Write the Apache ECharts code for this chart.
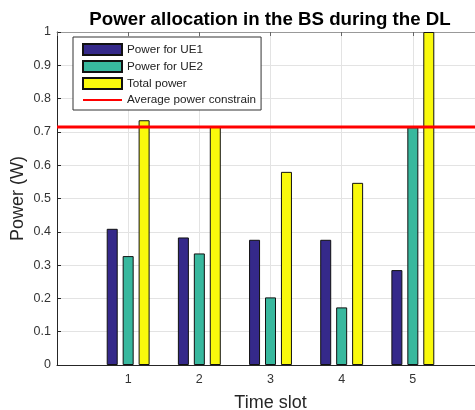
<!DOCTYPE html>
<html>
<head>
<meta charset="utf-8">
<script src="https://cdn.jsdelivr.net/npm/echarts@6/dist/echarts.min.js"></script>
<style>html,body{margin:0;padding:0;background:#fff;overflow:hidden;}#c{width:475px;height:410px;}</style>
</head>
<body>
<div id="c"></div>
<script>
const timeSlots = [1, 2, 3, 4, 5];
const ue1Power = [0.409, 0.383, 0.376, 0.376, 0.285];
const ue2Power = [0.327, 0.335, 0.203, 0.173, 0.714];
const totalPower = [0.735, 0.715, 0.580, 0.547, 1.0];
const avgConstraint = 0.715;
const xRange = [0, 6];
const seriesNames = ['Power for UE1', 'Power for UE2', 'Total power', 'Average power constrain'];

const pair = arr => timeSlots.map((t, i) => [t, arr[i]]);
const axisColor = '#262626';
const FONT = 'Liberation Sans, Arial, sans-serif';
const chart = echarts.init(document.getElementById('c'), null, {renderer: 'canvas'});
const barCommon = {type: 'bar', barWidth: 11, barGap: '45%', itemStyle: {borderColor: '#111', borderWidth: 1}};
chart.setOption({
  animation: false,
  backgroundColor: '#fff',
  textStyle: {fontFamily: FONT},
  title: {
    text: 'Power allocation in the BS during the DL',
    left: 265, textAlign: 'center', top: 5,
    textStyle: {fontSize: 18.7, fontWeight: 'bold', color: '#000', fontFamily: FONT}
  },
  legend: {
    orient: 'vertical', left: 73, top: 37,
    padding: [6, 5, 4, 9],
    itemWidth: 39, itemHeight: 11, itemGap: 4,
    backgroundColor: '#fff', borderColor: '#333', borderWidth: 1,
    textStyle: {fontSize: 11.7, color: '#222', fontFamily: FONT},
    data: [
      {name: seriesNames[0], icon: 'rect'},
      {name: seriesNames[1], icon: 'rect'},
      {name: seriesNames[2], icon: 'rect'},
      {name: seriesNames[3], itemStyle: {color: 'rgba(0,0,0,0)', borderWidth: 0, opacity: 0}}
    ]
  },
  grid: {left: 57, right: -9, top: 32, bottom: 45, containLabel: false, outerBoundsMode: 'none'},
  xAxis: [{
    type: 'value', min: xRange[0], max: xRange[1], interval: 1,
    name: 'Time slot', nameLocation: 'middle', nameGap: 29, nameMoveOverlap: false,
    nameTextStyle: {fontSize: 18, color: axisColor},
    axisLine: {show: true, lineStyle: {color: axisColor}},
    axisTick: {show: true, inside: true, length: 4, lineStyle: {color: axisColor}},
    axisLabel: {fontSize: 12.5, color: '#333', margin: 8,
      formatter: v => (v >= 1 && v <= 5) ? String(v) : ''},
    splitLine: {show: true, lineStyle: {color: '#e3e3e3'}}
  }, {
    type: 'value', position: 'top', min: xRange[0], max: xRange[1], interval: 1,
    axisLine: {show: true, lineStyle: {color: '#999'}},
    axisTick: {show: true, inside: true, length: 4, lineStyle: {color: '#666'}},
    axisLabel: {show: false}, splitLine: {show: false}
  }],
  yAxis: {
    type: 'value', min: 0, max: 1, interval: 0.1,
    name: 'Power (W)', nameLocation: 'middle', nameGap: 30, nameMoveOverlap: false,
    nameTextStyle: {fontSize: 18, color: axisColor},
    axisLine: {show: true, lineStyle: {color: axisColor}},
    axisTick: {show: true, inside: true, length: 4, lineStyle: {color: axisColor}},
    axisLabel: {fontSize: 12.5, color: '#333', margin: 6,
      formatter: v => String(Math.round(v * 10) / 10)},
    splitLine: {show: true, lineStyle: {color: '#e3e3e3'}}
  },
  series: [
    Object.assign({}, barCommon, {name: seriesNames[0], data: pair(ue1Power), itemStyle: Object.assign({}, barCommon.itemStyle, {color: '#35298A'})}),
    Object.assign({}, barCommon, {name: seriesNames[1], data: pair(ue2Power), itemStyle: Object.assign({}, barCommon.itemStyle, {color: '#38B89E'})}),
    Object.assign({}, barCommon, {name: seriesNames[2], data: pair(totalPower), itemStyle: Object.assign({}, barCommon.itemStyle, {color: '#F9F90C'})}),
    {
      name: seriesNames[3], type: 'line', symbol: 'none', z: 5,
      data: [[xRange[0], avgConstraint], [xRange[1], avgConstraint]],
      lineStyle: {color: '#FF0000', width: 3},
      itemStyle: {color: '#FF0000'}
    }
  ]
});
</script>
</body>
</html>
